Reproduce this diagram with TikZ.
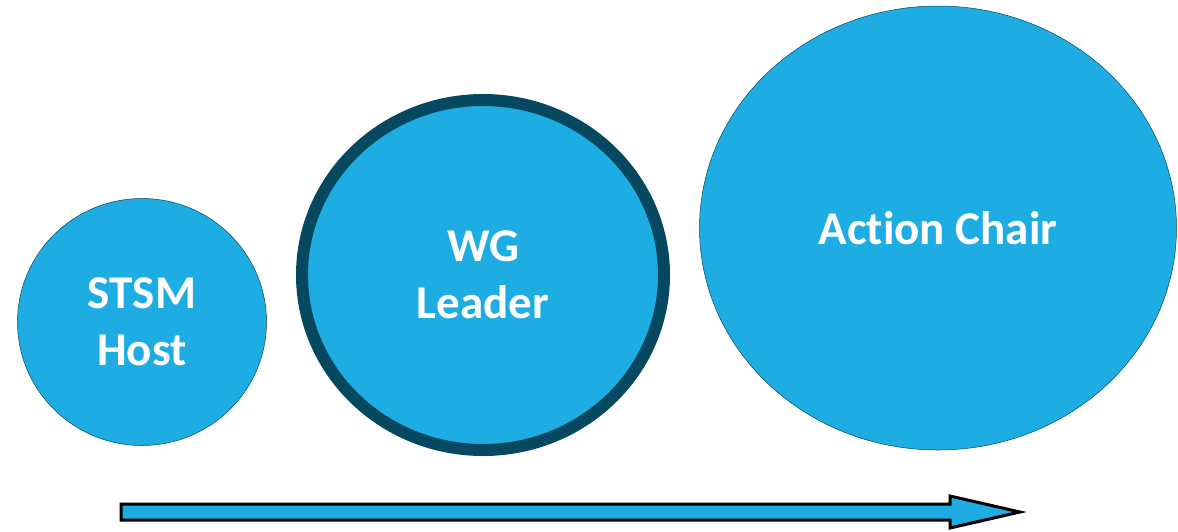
\documentclass[tikz,border=0pt]{standalone}
\usepackage{fontspec}
\setmainfont{Carlito}[Ligatures=NoCommon]
\usetikzlibrary{positioning,shapes.geometric}

\definecolor{roleblue}{HTML}{1EADE3}
\definecolor{roledark}{HTML}{05485F}

\begin{document}
\begin{tikzpicture}[
    x=1pt, y=-1pt,
    role/.style={
        ellipse,
        fill=roleblue,
        draw=roledark,
        line width=0.5pt,
        align=center,
        text=white,
        font=\fontsize{47}{57}\selectfont\bfseries,
        inner sep=0pt
    },
    progress/.style={
        fill=roleblue,
        draw=black,
        line width=3pt,
        line join=miter
    }
]
\useasboundingbox (0,0) rectangle (1178,531);

\node[role, minimum width=249pt, minimum height=247pt] (host) at (142,322) {STSM\\Host};
\node[role, draw=roledark, line width=12pt, minimum width=362pt, minimum height=350pt] (leader) at (483,275) {WG\\Leader};
\node[role, minimum width=477pt, minimum height=444pt] (chair) at (938,228) {Action Chair};

% growth arrow
\draw[progress] (121,504) -- (950,504) -- (950,496) -- (1020,512)
    -- (950,528) -- (950,520) -- (121,520) -- cycle;

\end{tikzpicture}
\end{document}
